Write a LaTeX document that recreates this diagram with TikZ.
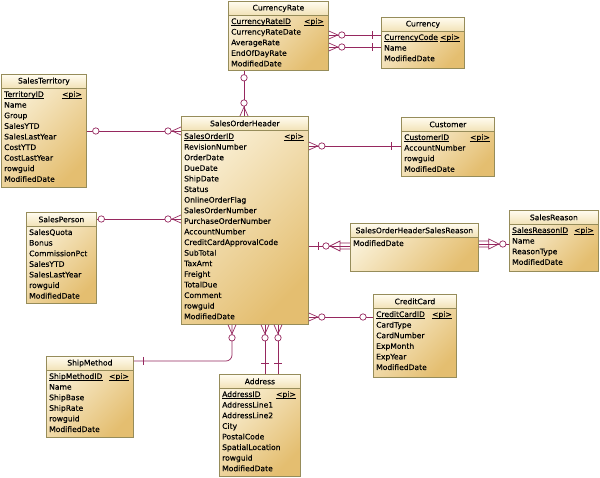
\documentclass[tikz,border=0pt]{standalone}
\usepackage{fontspec}
\setmainfont{DejaVu Sans}[FakeBold=0.2]
\usetikzlibrary{calc}
\definecolor{relc}{RGB}{150,40,95}
\definecolor{bord}{RGB}{150,140,90}
\definecolor{bodyA}{RGB}{250,241,216}
\definecolor{bodyB}{RGB}{228,190,112}
\definecolor{titA}{RGB}{255,252,240}
\definecolor{titB}{RGB}{242,226,182}
\newcommand\efont{\fontsize{7.6}{9}\selectfont}
\tikzset{
  ebody/.style={draw=bord, line width=0.8pt, top color=bodyA, bottom color=bodyB, shading angle=45, inner sep=0pt, anchor=north west},
  etitle/.style={draw=bord, line width=0.8pt, top color=titA, bottom color=titB, minimum height=14pt, inner sep=0pt, anchor=north west, font=\efont, text=black},
  erow/.style={font=\efont, inner sep=0pt, anchor=base west, text=black},
  uline/.style={draw=black, line width=0.5pt},
  rel/.style={draw=relc, line width=0.7pt},
  cfo/.pic={\draw[rel] (0,4)--(9,0)--(0,-4); \draw[rel, fill=white] (13,0) circle[radius=3.2];},
  optc/.pic={\draw[rel, fill=white] (#1,0) circle[radius=3.2];},
  bar/.pic={\draw[rel] (#1,-4)--(#1,4);},
  dep/.pic={\draw[rel] (0,3)--(10,3) (0,-3)--(10,-3) (10,-5)--(10,5)--(20,0)--cycle; \draw[rel, fill=white] (24,0) circle[radius=3.2];}
}
\newcommand\entbox[6]{%
  \node[ebody, minimum width=#4pt, minimum height=#5pt] (#1) at (#2,#3) {};
  \node[etitle, minimum width=#4pt] (#1-t) at (#2,#3) {#6};}
\newcommand\entpk[5]{%
  \node[erow] (#1-pk) at ({#2+3},{#3+23}) {#5};
  \node[erow, anchor=base east] (#1-pi) at ({#2+#4-4},{#3+23}) {<pi>};
  \draw[uline] ([yshift=-1.3pt]#1-pk.base west) -- ([yshift=-1.3pt]#1-pk.base east);
  \draw[uline] ([yshift=-1.3pt]#1-pi.base west) -- ([yshift=-1.3pt]#1-pi.base east);}
\newcommand\entrows[4]{%
  \foreach \rw [count=\i] in {#4} {\node[erow] (#1-\i) at ({#2+3},{#3+(\i-1)*10.6}) {\rw};}}
\begin{document}
\begin{tikzpicture}[x=1pt,y=-1pt]
\useasboundingbox (0,0) rectangle (600,478);
\fill[white] (0,0) rectangle (600,478);
% CurrencyRate
\entbox{cr}{228}{1}{100}{69}{CurrencyRate}
\entpk{cr}{228}{1}{100}{CurrencyRateID}
\entrows{cr}{228}{34.6}{CurrencyRateDate,AverageRate,EndOfDayRate,ModifiedDate}
% Currency
\entbox{cur}{381}{17}{83}{51}{Currency}
\entpk{cur}{381}{17}{83}{CurrencyCode}
\entrows{cur}{381}{50.6}{Name,ModifiedDate}
% SalesTerritory
\entbox{st}{1}{74}{85}{113}{SalesTerritory}
\entpk{st}{1}{74}{85}{TerritoryID}
\entrows{st}{1}{107.6}{Name,Group,SalesYTD,SalesLastYear,CostYTD,CostLastYear,rowguid,ModifiedDate}
% SalesOrderHeader
\entbox{soh}{181}{116}{127}{208}{SalesOrderHeader}
\entpk{soh}{181}{116}{127}{SalesOrderID}
\entrows{soh}{181}{149.6}{RevisionNumber,OrderDate,DueDate,ShipDate,Status,OnlineOrderFlag,SalesOrderNumber,PurchaseOrderNumber,AccountNumber,CreditCardApprovalCode,SubTotal,TaxAmt,Freight,TotalDue,Comment,rowguid,ModifiedDate}
% Customer
\entbox{cust}{401}{117}{93}{59}{Customer}
\entpk{cust}{401}{117}{93}{CustomerID}
\entrows{cust}{401}{150.6}{AccountNumber,rowguid,ModifiedDate}
% SalesPerson
\entbox{sp}{26}{212}{70}{91}{SalesPerson}
\entrows{sp}{26}{235}{SalesQuota,Bonus,CommissionPct,SalesYTD,SalesLastYear,rowguid,ModifiedDate}
% SalesOrderHeaderSalesReason
\entbox{sohsr}{350}{223}{128}{48}{SalesOrderHeaderSalesReason}
\entrows{sohsr}{350}{246}{ModifiedDate}
% SalesReason
\entbox{sr}{509}{210}{89}{61}{SalesReason}
\entpk{sr}{509}{210}{89}{SalesReasonID}
\entrows{sr}{509}{243.6}{Name,ReasonType,ModifiedDate}
% CreditCard
\entbox{cc}{373}{294}{83}{83}{CreditCard}
\entpk{cc}{373}{294}{83}{CreditCardID}
\entrows{cc}{373}{327.6}{CardType,CardNumber,ExpMonth,ExpYear,ModifiedDate}
% ShipMethod
\entbox{sm}{46}{356}{87}{81}{ShipMethod}
\entpk{sm}{46}{356}{87}{ShipMethodID}
\entrows{sm}{46}{389.6}{Name,ShipBase,ShipRate,rowguid,ModifiedDate}
% Address
\entbox{addr}{219}{374}{81}{102}{Address}
\entpk{addr}{219}{374}{81}{AddressID}
\entrows{addr}{219}{407.6}{AddressLine1,AddressLine2,City,PostalCode,SpatialLocation,rowguid,ModifiedDate}
% ---- connectors
% CurrencyRate - Currency
\foreach \yy in {35,47}{
  \draw[rel] (cr.east |- 0,\yy) -- (cur.west |- 0,\yy);
  \pic at (cr.east |- 0,\yy) {cfo};
  \pic[rotate=180] at (cur.west |- 0,\yy) {bar=9};
}
% CurrencyRate - SalesOrderHeader
\draw[rel] (cr.south -| 244,0) -- (soh.north -| 244,0);
\pic[rotate=-90] at (cr.south -| 244,0) {optc=7};
\pic[rotate=90] at (soh.north -| 244,0) {cfo};
% SalesTerritory - SalesOrderHeader
\draw[rel] (st.east |- 0,131) -- (soh.west |- 0,131);
\pic at (st.east |- 0,131) {optc=9};
\pic[rotate=180] at (soh.west |- 0,131) {cfo};
% SalesPerson - SalesOrderHeader
\draw[rel] (sp.east |- 0,219) -- (soh.west |- 0,219);
\pic at (sp.east |- 0,219) {optc=4.5};
\pic[rotate=180] at (soh.west |- 0,219) {cfo};
% SalesOrderHeader - Customer
\draw[rel] (soh.east |- 0,146) -- (cust.west |- 0,146);
\pic at (soh.east |- 0,146) {cfo};
\pic[rotate=180] at (cust.west |- 0,146) {bar=10};
% SalesOrderHeader - CreditCard
\draw[rel] (soh.east |- 0,317) -- (cc.west |- 0,317);
\pic at (soh.east |- 0,317) {cfo};
\pic[rotate=180] at (cc.west |- 0,317) {optc=10};
% SalesOrderHeader - SalesOrderHeaderSalesReason
\draw[rel] (soh.east |- 0,246) -- (sohsr.west |- 0,246);
\pic at (soh.east |- 0,246) {bar=10};
\pic[rotate=180] at (sohsr.west |- 0,246) {dep};
% SalesOrderHeaderSalesReason - SalesReason
\draw[rel] (sohsr.east |- 0,244) -- (sr.west |- 0,244);
\pic at (sohsr.east |- 0,244) {dep};
% SalesOrderHeader - ShipMethod
\draw[rel, rounded corners=6] (soh.south -| 232,0) -- (232,361) -- (sm.east |- 0,361);
\pic[rotate=-90] at (soh.south -| 232,0) {cfo};
\pic at (sm.east |- 0,361) {bar=10};
% SalesOrderHeader - Address
\foreach \xx in {265,278}{
  \draw[rel] (soh.south -| \xx,0) -- (addr.north -| \xx,0);
  \pic[rotate=-90] at (soh.south -| \xx,0) {cfo};
  \pic[rotate=90] at (addr.north -| \xx,0) {bar=11};
}
\end{tikzpicture}
\end{document}
